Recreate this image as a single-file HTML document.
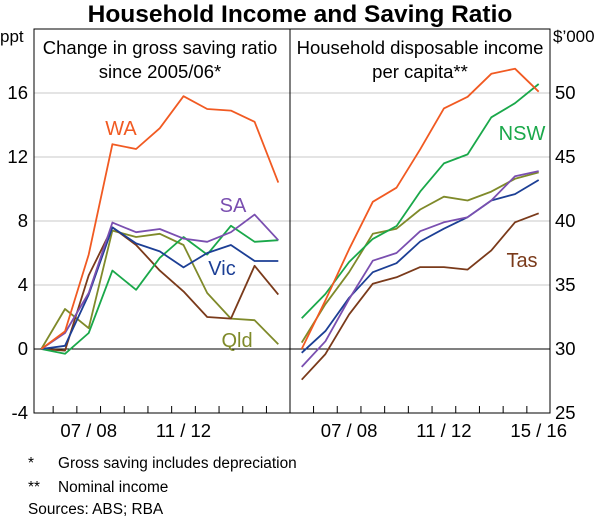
<!DOCTYPE html>
<html><head><meta charset="utf-8"><style>
body{margin:0;background:#fff;}
svg{display:block;font-family:"Liberation Sans",Arial,sans-serif;}
</style></head><body>
<svg id="chart" width="600" height="518" viewBox="0 0 600 518">
<text x="300" y="22" text-anchor="middle" font-size="24.5" font-weight="bold">Household Income and Saving Ratio</text>
<g id="grid"></g>
<g id="lines"></g>
<rect x="34" y="29" width="516" height="384" fill="none" stroke="#000" stroke-width="1"/>
<line x1="290" y1="29" x2="290" y2="413" stroke="#000"/>
<g id="axes" font-size="18.5"></g>
<text x="0" y="42" font-size="17">ppt</text>
<text x="553" y="42" font-size="17">$’000</text>
<text x="160" y="54" text-anchor="middle" font-size="18.5"><tspan x="160">Change in gross saving ratio</tspan><tspan x="160" dy="24">since 2005/06*</tspan></text>
<text x="420" y="54" text-anchor="middle" font-size="18.5"><tspan x="420">Household disposable income</tspan><tspan x="420" dy="24">per capita**</tspan></text>
<text x="121" y="135" text-anchor="middle" font-size="20" fill="#f15a22">WA</text>
<text x="233" y="212" text-anchor="middle" font-size="20" fill="#7a4fb0">SA</text>
<text x="222" y="275" text-anchor="middle" font-size="20" fill="#1c3f95">Vic</text>
<text x="237" y="347" text-anchor="middle" font-size="20" fill="#7f8a2a">Qld</text>
<text x="522" y="140" text-anchor="middle" font-size="20" fill="#1aa84a">NSW</text>
<text x="522" y="267" text-anchor="middle" font-size="20" fill="#7a3a1a">Tas</text>
<g font-size="15.4">
<text x="28" y="468">*</text>
<text x="58" y="468">Gross saving includes depreciation</text>
<text x="28" y="492">**</text>
<text x="58" y="492">Nominal income</text>
<text x="28" y="514">Sources:  ABS; RBA</text>
</g>
</svg>
<script>
const years = ["05/06","06/07","07/08","08/09","09/10","10/11","11/12","12/13","13/14","14/15","15/16"];
const leftTicks = [-4,0,4,8,12,16];
const rightTicks = [25,30,35,40,45,50];
const xLabelsLeft = ["07/08","11/12"];
const xLabelsRight = ["07/08","11/12","15/16"];
const savWA = [0,1.1,5.9,12.8,12.5,13.8,15.8,15.0,14.9,14.2,10.4];
const savSA = [0,1.0,3.5,7.9,7.3,7.5,6.9,6.7,7.3,8.4,6.8];
const savVic = [0,0.2,3.4,7.6,6.6,6.1,5.1,6.0,6.5,5.5,5.5];
const savNSW = [0,-0.3,1.0,4.9,3.7,5.7,7.0,5.9,7.7,6.7,6.8];
const savQld = [0,2.5,1.3,7.4,7.0,7.2,6.5,3.5,1.9,1.8,0.3];
const savTas = [0,-0.1,4.6,7.6,6.5,4.9,3.6,2.0,1.9,5.2,3.4];
const incWA = [30.0,33.8,37.8,41.5,42.6,45.6,48.8,49.7,51.5,51.9,50.1];
const incNSW = [32.4,34.3,36.8,38.6,39.6,42.3,44.5,45.2,48.1,49.2,50.7];
const incQld = [30.5,33.5,36.0,39.0,39.4,40.9,41.9,41.6,42.3,43.3,43.8];
const incSA = [28.6,30.6,33.9,36.9,37.5,39.2,39.9,40.3,41.6,43.5,43.9];
const incVic = [29.7,31.4,34.0,36.0,36.7,38.4,39.4,40.3,41.6,42.1,43.2];
const incTas = [27.6,29.6,32.7,35.1,35.6,36.4,36.4,36.2,37.7,39.9,40.6];

const NS="http://www.w3.org/2000/svg";
const TOP=29,BOT=413,STEP=23.7;
function xL(i){return 41.3+STEP*i;}
function xR(i){return 301.7+STEP*i;}
function yL(v){return BOT-(v+4)/24*(BOT-TOP);}
function yR(v){return BOT-(v-25)/30*(BOT-TOP);}
function mk(tag,attrs,parent){const e=document.createElementNS(NS,tag);for(const k in attrs)e.setAttribute(k,attrs[k]);parent.appendChild(e);return e;}
const grid=document.getElementById('grid'),lines=document.getElementById('lines'),axes=document.getElementById('axes');
leftTicks.forEach(v=>{
  const y=yL(v);
  if(v>-4){const l=mk('line',{x1:34,x2:550,y1:y,y2:y,stroke:v===0?'#000':'#c8c8c8','stroke-width':1},v===0?lines:grid);
  
  }
  const t=mk('text',{x:28,y:y+6,'text-anchor':'end'},axes);t.textContent=v;
  
  
});
rightTicks.forEach(v=>{
  const t=mk('text',{x:555,y:yR(v)+6},axes);t.textContent=v;
  
  
});
for(let i=1;i<years.length;i++){
  [xL(i)-STEP/2,xR(i)-STEP/2].forEach(x=>{
    const l=mk('line',{x1:x,x2:x,y1:BOT,y2:BOT-7,stroke:'#000'},axes);
    
    
  });
}
xLabelsLeft.forEach(s=>{const i=years.indexOf(s);const t=mk('text',{x:xL(i),y:437,'text-anchor':'middle'},axes);t.textContent=s.replace('/',' / ');
  
  });
xLabelsRight.forEach(s=>{const i=years.indexOf(s);const t=mk('text',{x:xR(i),y:437,'text-anchor':'middle'},axes);t.textContent=s.replace('/',' / ');
  
  });
function series(data,xf,yf,color,name){
  const p=mk('polyline',{points:data.map((v,i)=>xf(i).toFixed(1)+','+yf(v).toFixed(1)).join(' '),fill:'none',stroke:color,'stroke-width':1.8,'stroke-linejoin':'round'},lines);
  
  
}
series(savQld,xL,yL,'#7f8a2a','saving-qld-line');
series(savTas,xL,yL,'#7a3a1a','saving-tas-line');
series(savNSW,xL,yL,'#1aa84a','saving-nsw-line');
series(savVic,xL,yL,'#1c3f95','saving-vic-line');
series(savSA,xL,yL,'#7a4fb0','saving-sa-line');
series(savWA,xL,yL,'#f15a22','saving-wa-line');
series(incTas,xR,yR,'#7a3a1a','income-tas-line');
series(incQld,xR,yR,'#7f8a2a','income-qld-line');
series(incVic,xR,yR,'#1c3f95','income-vic-line');
series(incSA,xR,yR,'#7a4fb0','income-sa-line');
series(incNSW,xR,yR,'#1aa84a','income-nsw-line');
series(incWA,xR,yR,'#f15a22','income-wa-line');
</script>
</body></html>
